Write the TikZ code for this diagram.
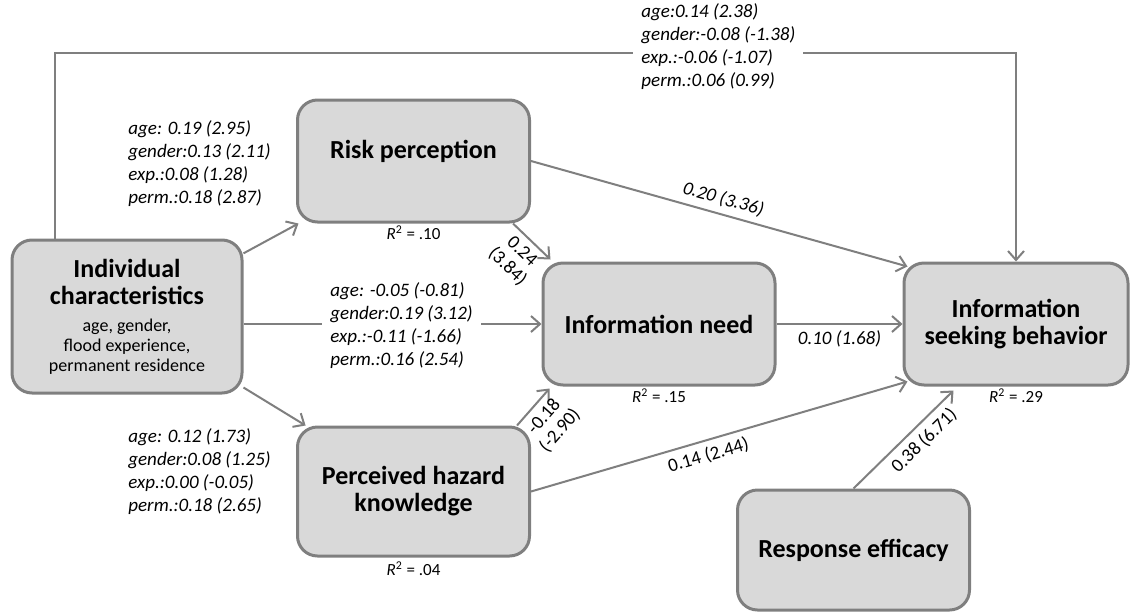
\documentclass[tikz,border=0pt]{standalone}
\usepackage{fontspec}
\setmainfont{Carlito}
\usetikzlibrary{positioning,arrows.meta,calc}

\definecolor{boxfill}{HTML}{D9D9D9}
\definecolor{boxline}{HTML}{7F7F7F}
\newcommand{\icsub}{\fontsize{9}{10}\selectfont\mdseries}

\begin{document}
\begin{tikzpicture}[
    x=0.5pt, y=-0.5pt,
    every node/.style={font=\fontsize{9.5}{11.5}\selectfont},
    var/.style={draw=boxline, line width=1.5pt, fill=boxfill, rounded corners=10pt,
      minimum width=116pt, minimum height=61pt, align=center,
      font=\fontsize{13}{13.5}\selectfont\bfseries},
    coef/.style={align=left, inner sep=0pt, font=\fontsize{9.5}{11.5}\selectfont\itshape},
    coefbox/.style={coef, fill=white, inner sep=4pt},
    rsq/.style={inner sep=1pt, font=\fontsize{8.5}{9}\selectfont},
    edgelbl/.style={align=center, inner sep=3pt, font=\fontsize{9.5}{10.5}\selectfont},
    edgeit/.style={edgelbl, font=\fontsize{9.5}{10.5}\selectfont\itshape},
    link/.style={draw=boxline, line width=1pt, -{Straight Barb[length=4.5pt,width=8pt]}},
  ]
  \useasboundingbox (0,0) rectangle (1130,611);

  % variables
  \node[var, minimum width=115pt, minimum height=76.5pt] (ic) at (127,316.5)
    {Individual\\characteristics\\{\icsub age, gender,}\\[-3.5pt]{\icsub flood experience,}\\[-3.5pt]{\icsub permanent residence}};
  \node[var, text depth=12pt] (rp) at (413.5,161) {Risk perception};
  \node[var] (in) at (659,324) {Information need};
  \node[var, minimum width=112pt] (isb) at (1016,324) {Information\\seeking behavior};
  \node[var, minimum height=64.5pt] (phk) at (413.5,491.5) {Perceived hazard\\knowledge};
  \node[var, minimum height=60pt] (re) at (853.5,550) {Response efficacy};

  % explained variance
  \node[rsq, below=0pt of rp] (rprsq) {\textit{R}\textsuperscript{2} = .10};
  \node[rsq, below=0pt of in] (inrsq) {\textit{R}\textsuperscript{2} = .15};
  \node[rsq, below=0pt of isb] (isbrsq) {\textit{R}\textsuperscript{2} = .29};
  \node[rsq, below=1pt of phk] (phkrsq) {\textit{R}\textsuperscript{2} = .04};

  % paths
  \coordinate (topleft) at (55,53);
  \draw[link] (ic.north -| topleft) -- (topleft) -| (isb.north);
  \draw[link] (ic) -- (rp);
  \draw[link] (ic.east |- in.west) -- (in.west);
  \draw[link] (ic) -- (phk);
  \draw[link] (rp.east) -- node[edgeit, sloped, above] {0.20 (3.36)} ($(isb.north west)+(5,5)$);
  \draw[link] ($(rp.south east)+(-18,0)$) -- node[edgelbl, sloped, below] {0.24\\(3.84)} ($(in.north west)+(9,-2)$);
  \draw[link] (in.east) -- node[edgeit, below] {0.10 (1.68)} (isb.west);
  \draw[link] ($(phk.north east)+(-14,0)$) -- node[edgelbl, sloped, below] {-0.18\\(-2.90)} ($(in.south west)+(8,2)$);
  \draw[link] (phk.east) -- node[edgelbl, sloped, below, pos=0.46] {0.14 (2.44)} ($(isb.south west)+(5,-5)$);
  \draw[link] (re.north) -- node[edgelbl, sloped, below, pos=0.6] {0.38 (6.71)} ($(isb.south west)+(51,4)$);

  % coefficients of individual characteristics
  \node[coefbox, anchor=west] (toplbl) at (633,47)
    {age:0.14 (2.38)\\gender:-0.08 (-1.38)\\exp.:-0.06 (-1.07)\\perm.:0.06 (0.99)};
  \node[coef, anchor=west] (rplbl) at (128,163.5)
    {age: 0.19 (2.95)\\gender:0.13 (2.11)\\exp.:0.08 (1.28)\\perm.:0.18 (2.87)};
  \node[coefbox, anchor=west] (inlbl) at (322,325.5)
    {age: -0.05 (-0.81)\\gender:0.19 (3.12)\\exp.:-0.11 (-1.66)\\perm.:0.16 (2.54)};
  \node[coef, anchor=west] (phklbl) at (128,471.5)
    {age: 0.12 (1.73)\\gender:0.08 (1.25)\\exp.:0.00 (-0.05)\\perm.:0.18 (2.65)};
\end{tikzpicture}
\end{document}
